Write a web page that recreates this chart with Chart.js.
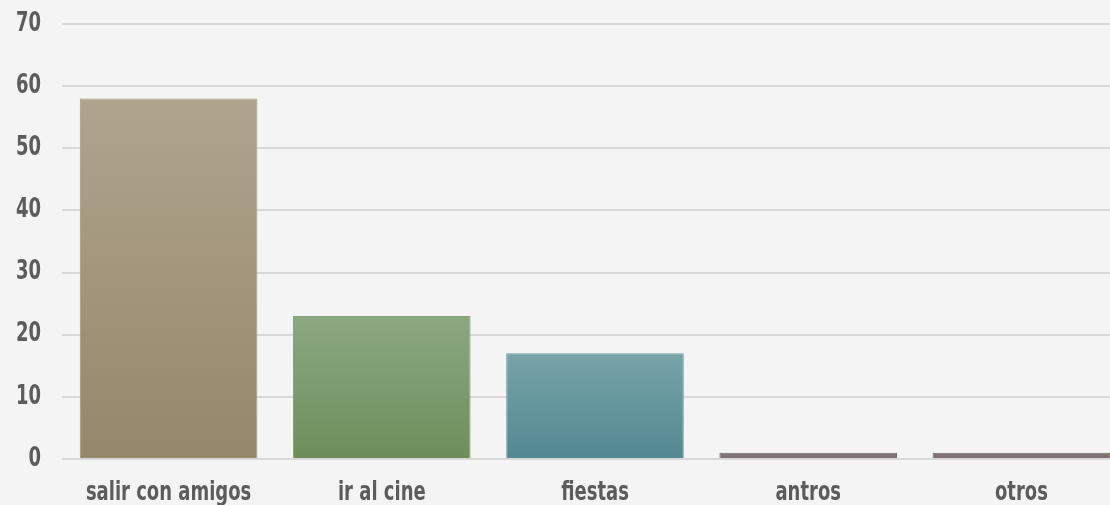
<!DOCTYPE html>
<html>
<head>
<meta charset="utf-8">
<script src="https://cdn.jsdelivr.net/npm/chart.js@4"></script>
<style>
  html, body { margin: 0; padding: 0; overflow: hidden; background: #f4f4f4; }
  #wrap { width: 1128px; height: 505px; }
</style>
</head>
<body>
<div id="wrap"><canvas id="chart" width="1128" height="505"></canvas></div>
<script>
const categories = ['salir con amigos', 'ir al cine', 'fiestas', 'antros', 'otros'];
const values = [58, 23, 17, 1, 1];
const yTicks = [0, 10, 20, 30, 40, 50, 60, 70];

// top / bottom colours of each bar
const topColors = ['#b0a48e', '#8ba882', '#77a3a8', '#847678', '#847678'];
const bottomColors = ['#95876a', '#6d8e5b', '#538892', '#7d6f71', '#7d6f71'];
const borderColors = ['#a39678', '#86a47a', '#6a9aa2', '#766869', '#766869'];

const FONT = '"DejaVu Sans Condensed", "Liberation Sans Narrow", sans-serif';
const LABEL_COLOR = '#5c5c5c';
const STRETCH = 1.3;  // tall narrow look of the labels

// each bar fades from its own top to the baseline
function barGradient(ctx) {
    const chart = ctx.chart;
    const area = chart.chartArea;
    if (!area || ctx.raw === undefined) return topColors[ctx.dataIndex];
    const top = chart.scales.y.getPixelForValue(ctx.raw);
    const g = chart.ctx.createLinearGradient(0, top, 0, area.bottom);
    g.addColorStop(0, topColors[ctx.dataIndex]);
    g.addColorStop(1, bottomColors[ctx.dataIndex]);
    return g;
}

function tallText(c, text, x, y, align) {
    c.save();
    c.translate(x, y);
    c.scale(1, STRETCH);
    c.font = 'bold 20px ' + FONT;
    c.fillStyle = LABEL_COLOR;
    c.textAlign = align;
    c.textBaseline = 'middle';
    c.fillText(text, 0, 0);
    c.restore();
}

const tallLabels = {
    id: 'tallLabels',
    afterDraw(chart) {
        const c = chart.ctx;
        const xs = chart.scales.x, ys = chart.scales.y;
        yTicks.forEach(v => tallText(c, String(v), 41, ys.getPixelForValue(v), 'right'));
        categories.forEach((label, i) => tallText(c, label, xs.getPixelForValue(i), 493, 'center'));
    }
};

new Chart(document.getElementById('chart').getContext('2d'), {
    type: 'bar',
    data: {
        labels: categories,
        datasets: [{
            data: values,
            backgroundColor: barGradient,
            borderColor: borderColors,
            borderWidth: 1,
            categoryPercentage: 1,
            barPercentage: 0.833
        }]
    },
    options: {
        responsive: false,
        animation: false,
        layout: { padding: { top: 24, left: 0, right: 0, bottom: 0 } },
        plugins: { legend: { display: false }, tooltip: { enabled: false } },
        scales: {
            x: {
                afterFit: axis => { axis.height = 46; },
                grid: { display: false, drawTicks: false },
                border: { display: false },
                ticks: { color: 'transparent', font: { size: 10 }, maxRotation: 0 }
            },
            y: {
                min: 0,
                max: 70,
                afterBuildTicks: axis => { axis.ticks = yTicks.map(v => ({ value: v })); },
                afterFit: axis => { axis.width = 62; },
                grid: { color: '#d8d8d8', lineWidth: 2, drawTicks: false },
                border: { display: false },
                ticks: { color: 'transparent', font: { size: 10 } }
            }
        }
    },
    plugins: [tallLabels]
});
</script>
</body>
</html>
